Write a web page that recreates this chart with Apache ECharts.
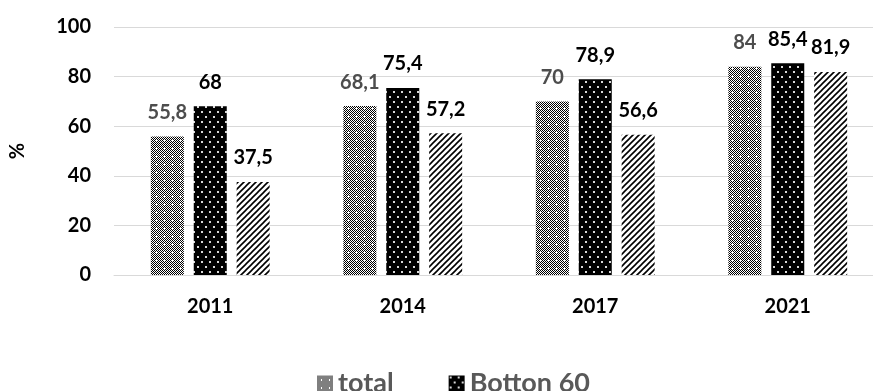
<!DOCTYPE html>
<html>
<head>
<meta charset="utf-8">
<script src="https://cdn.jsdelivr.net/npm/echarts@6/dist/echarts.min.js"></script>
<style>
  html, body { margin: 0; padding: 0; background: #fff; }
  #chart { width: 873px; height: 391px; }
</style>
</head>
<body>
<div id="chart"></div>
<script>
// Survey years and shares (%)
const categories = ['2011', '2014', '2017', '2021'];
const totalValues = [55.8, 68.1, 70, 84];
const bottom60Values = [68, 75.4, 78.9, 85.4];
const top40Values = [37.5, 57.2, 56.6, 81.9];
const yMin = 0;
const yMax = 100;
const yStep = 20;

const FONT = 'Lato, "Open Sans", sans-serif';

// Hatch tiles for monochrome bar fills
function makeTile(w, h, draw) {
  const c = document.createElement('canvas');
  c.width = w; c.height = h;
  const ctx = c.getContext('2d');
  draw(ctx, w, h);
  return { image: c, repeat: 'repeat' };
}

// Fine checkerboard with small white crosses
const checkerFill = makeTile(8, 8, (ctx, w, h) => {
  ctx.fillStyle = '#fff';
  ctx.fillRect(0, 0, w, h);
  ctx.fillStyle = '#000';
  for (let y = 0; y < h; y++) {
    for (let x = 0; x < w; x++) {
      if ((x + y) % 2 === 0) ctx.fillRect(x, y, 1, 1);
    }
  }
  ctx.fillStyle = '#fff';
  [[4, 3], [3, 4], [4, 4], [5, 4], [4, 5]].forEach(p => ctx.fillRect(p[0], p[1], 1, 1));
});

// Black ground with staggered light dots
const dotFill = makeTile(8, 10, (ctx, w, h) => {
  ctx.fillStyle = '#000';
  ctx.fillRect(0, 0, w, h);
  ctx.fillStyle = '#d8d8d8';
  ctx.fillRect(1, 1, 2, 2);
  ctx.fillRect(5, 6, 2, 2);
});

// White ground with forward diagonal stripes
const stripeFill = makeTile(6, 6, (ctx, w, h) => {
  ctx.fillStyle = '#fff';
  ctx.fillRect(0, 0, w, h);
  ctx.strokeStyle = '#000';
  ctx.lineWidth = 1.6;
  ctx.beginPath();
  ctx.moveTo(-1, h + 1); ctx.lineTo(w + 1, -1);
  ctx.moveTo(-1, 1); ctx.lineTo(1, -1);
  ctx.moveTo(w - 1, h + 1); ctx.lineTo(w + 1, h - 1);
  ctx.stroke();
});

const fmt = p => String(p.value).replace('.', ',');

function barSeries(name, data, fill, labelColor) {
  return {
    name: name,
    type: 'bar',
    data: data,
    barWidth: 33,
    barGap: '30%',
    itemStyle: { color: fill },
    label: {
      show: true,
      position: 'top',
      distance: 14,
      formatter: fmt,
      color: labelColor,
      fontFamily: FONT,
      fontWeight: 'bold',
      fontSize: 20
    }
  };
}

const chart = echarts.init(document.getElementById('chart'), null, { renderer: 'canvas' });
chart.setOption({
  animation: false,
  backgroundColor: '#fff',
  grid: { left: 114, top: 27, width: 770, height: 248, containLabel: false, outerBoundsMode: 'none' },
  legend: {
    data: ['total', 'Botton 60'],
    left: 312,
    top: 365,
    icon: 'rect',
    itemWidth: 16,
    itemHeight: 16,
    itemGap: 55,
    textStyle: { color: '#595959', fontFamily: FONT, fontWeight: 'bold', fontSize: 27 }
  },
  xAxis: {
    type: 'category',
    data: categories,
    axisLine: { show: true, lineStyle: { color: '#d9d9d9', width: 1 } },
    axisTick: { show: false },
    axisLabel: { color: '#000', fontFamily: FONT, fontWeight: 'bold', fontSize: 20, margin: 22 }
  },
  yAxis: {
    type: 'value',
    min: yMin,
    max: yMax,
    interval: yStep,
    name: '%',
    nameLocation: 'middle',
    nameRotate: 90,
    nameGap: 86,
    nameTextStyle: { color: '#000', fontFamily: FONT, fontWeight: 'bold', fontSize: 20 },
    axisLine: { show: false },
    axisTick: { show: false },
    splitLine: { lineStyle: { color: '#d9d9d9', width: 1 } },
    axisLabel: { color: '#000', fontFamily: FONT, fontWeight: 'bold', fontSize: 20, margin: 23 }
  },
  series: [
    barSeries('total', totalValues, checkerFill, '#4d4d4d'),
    barSeries('Botton 60', bottom60Values, dotFill, '#000'),
    barSeries('Top 40', top40Values, stripeFill, '#000')
  ]
});
</script>
</body>
</html>
